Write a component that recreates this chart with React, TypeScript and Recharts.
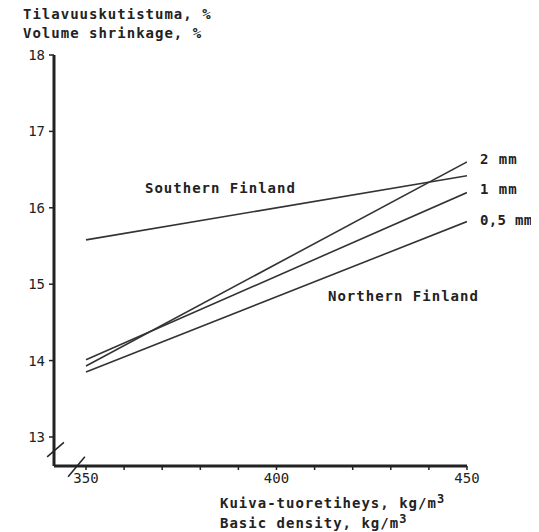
import React from "react";
import { LineChart, Line, XAxis, YAxis, ReferenceLine, Customized } from "recharts";

const densities = [350, 450];
const southernFinland = [15.58, 16.42];
const mm2 = [13.93, 16.6];
const mm1 = [14.01, 16.2];
const mm05 = [13.85, 15.82];
const xTicks = [350, 360, 370, 380, 390, 400, 410, 420, 430, 440, 450];
const yTicks = [13, 14, 15, 16, 17, 18];
const xLabelTicks = [350, 400, 450];

const data = densities.map((d, i) => ({
  x: d,
  south: southernFinland[i],
  m2: mm2[i],
  m1: mm1[i],
  m05: mm05[i],
}));

const FONT = "'DejaVu Sans Mono', monospace";
const INK = "#222";

const txt = (x: number, y: number, s: React.ReactNode, key: string, ls = 1) => (
  <text key={key} x={x} y={y} fontFamily={FONT} fontSize={14} fontWeight="bold" letterSpacing={ls} fill={INK}>
    {s}
  </text>
);

const Labels = () => (
  <g>
    {txt(15, 11, "Tilavuuskutistuma, %", "t1")}
    {txt(15, 30, "Volume shrinkage, %", "t2")}
    {txt(137, 185, "Southern Finland", "s")}
    {txt(320, 293, "Northern Finland", "n")}
    {txt(472, 156, "2 mm", "a")}
    {txt(472, 186, "1 mm", "b")}
    {txt(472, 217, "0,5 mm", "c", 0.3)}
    <text x={212} y={500} fontFamily={FONT} fontSize={14} fontWeight="bold" letterSpacing={1} fill={INK}>
      Kuiva-tuoretiheys, kg/m<tspan dy={-5} fontSize={12}>3</tspan>
    </text>
    <text x={212} y={520} fontFamily={FONT} fontSize={14} fontWeight="bold" letterSpacing={1} fill={INK}>
      Basic density, kg/m<tspan dy={-5} fontSize={12}>3</tspan>
    </text>
  </g>
);

export default function App() {
  return (
    <LineChart
      width={531}
      height={524}
      data={data}
      style={{ overflow: "visible" }}
      margin={{ top: 47, left: 6, right: 72, bottom: 36 }}
    >
      <XAxis
        dataKey="x"
        type="number"
        domain={[341.6, 450]}
        allowDataOverflow
        ticks={xTicks}
        interval={0}
        tickFormatter={(v: number) => (xLabelTicks.includes(v) ? String(v) : "")}
        height={30}
        tickSize={4}
        tickMargin={3}
        axisLine={{ stroke: INK, strokeWidth: 3 }}
        tickLine={{ stroke: INK, strokeWidth: 1.5 }}
        tick={{ fontFamily: FONT, fontSize: 14, fill: INK }}
      />
      <YAxis
        type="number"
        domain={[12.62, 18]}
        allowDataOverflow
        ticks={yTicks}
        interval={0}
        width={40}
        tickSize={5}
        tickMargin={4}
        axisLine={{ stroke: INK, strokeWidth: 3 }}
        tickLine={{ stroke: INK, strokeWidth: 1.5 }}
        tick={{ fontFamily: FONT, fontSize: 14, fill: INK }}
      />
      <ReferenceLine
        segment={[{ x: 339.8, y: 12.74 }, { x: 344.2, y: 12.93 }]}
        stroke={INK}
        strokeWidth={1.5}
        ifOverflow="visible"
      />
      <ReferenceLine
        segment={[{ x: 345.3, y: 12.48 }, { x: 349.7, y: 12.74 }]}
        stroke={INK}
        strokeWidth={1.5}
        ifOverflow="visible"
      />
      <Line dataKey="south" stroke="#333" strokeWidth={1.6} dot={false} isAnimationActive={false} />
      <Line dataKey="m2" stroke="#333" strokeWidth={1.6} dot={false} isAnimationActive={false} />
      <Line dataKey="m1" stroke="#333" strokeWidth={1.6} dot={false} isAnimationActive={false} />
      <Line dataKey="m05" stroke="#333" strokeWidth={1.6} dot={false} isAnimationActive={false} />
      <Customized component={Labels} />
    </LineChart>
  );
}
